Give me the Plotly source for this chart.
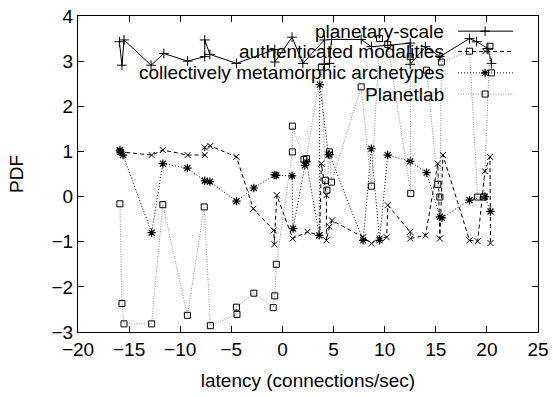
import plotly.graph_objects as go

# ---- data ----
series_names = ["planetary-scale", "authenticated modalities",
                "collectively metamorphic archetypes", "Planetlab"]

x_planetary = [-15.95, -15.7, -15.5, -12.85, -11.6, -9.27, -7.6, -7.6, -7.1, -4.5,
               -0.75, -0.75, 0.94, 2.0, 4.1, 4.1, 4.6, 4.8, 7.7, 8.7, 10.3, 12.5,
               12.5, 14.0, 15.4, 18.3, 19.0, 20.1, 20.45]
y_planetary = [3.43, 2.91, 3.47, 2.91, 3.17, 3.0, 3.1, 3.47, 3.15, 2.95,
               3.26, 2.98, 3.53, 2.95, 3.47, 2.93, 2.95, 3.48, 3.48, 3.32, 3.35, 3.4,
               2.93, 3.32, 3.1, 3.5, 3.43, 3.28, 2.95]

x_auth = [-15.9, -15.8, -12.8, -11.7, -9.27, -7.6, -7.6, -7.05, -4.5, -2.85, -0.85,
          -0.8, -0.55, 1.0, 2.45, 3.65, 3.8, 4.3, 4.3, 4.6, 4.85, 7.9, 8.7, 9.5,
          10.2, 10.3, 12.5, 12.5, 14.0, 15.2, 15.4, 15.7, 18.3, 19.1, 19.8, 20.3, 20.35]
y_auth = [1.02, 0.99, 0.92, 1.03, 0.92, 0.92, 1.09, 1.12, 0.88, -0.27, -0.75,
          -1.06, 0.03, -0.93, -0.78, -0.86, 0.73, 0.03, -0.97, -0.67, -0.53, -0.9, -1.04, -0.93,
          -0.9, -0.19, -0.78, -0.93, -0.86, 0.73, -0.93, 0.92, -0.97, -0.99, 0.56, 0.88, -1.03]

x_coll = [-15.9, -15.85, -15.6, -12.8, -11.7, -9.3, -7.6, -7.1, -4.5, -2.8, -0.75,
          -0.6, 0.94, 1.04, 2.2, 2.35, 3.6, 3.65, 4.5, 4.6, 7.9, 8.7, 9.5, 10.3, 12.5,
          14.1, 15.4, 15.6, 18.3, 19.8, 20.35]
y_coll = [1.03, 0.99, 0.92, -0.8, 0.73, 0.63, 0.35, 0.33, -0.1, 0.19, 0.48,
          0.47, 0.46, -0.71, 0.69, 0.77, -0.86, 2.48, 0.93, 0.93, -0.97, 1.06, -0.97, 0.92, 0.78,
          0.53, -0.45, -0.47, -0.08, 0.0, -0.33]

x_plab = [-15.9, -15.7, -15.5, -12.8, -11.7, -9.3, -7.65, -7.05, -4.45, -4.5, -2.8,
          -0.9, -0.75, -0.6, 0.97, 0.97, 2.1, 2.35, 3.8, 4.2, 4.35, 4.6, 4.8, 7.7, 8.7,
          9.5, 10.3, 12.55, 12.5, 14.1, 15.2, 15.4, 15.55, 18.3, 19.1, 19.7, 20.3, 20.45]
y_plab = [-0.16, -2.37, -2.82, -2.82, -0.18, -2.63, -0.23, -2.86, -2.61, -2.45, -2.14,
          -2.46, -2.2, -1.5, 0.99, 1.56, 0.82, 0.84, 2.87, 0.36, 0.14, 0.99, 0.32, 2.43, 0.23,
          3.5, 3.37, 0.07, 3.1, 2.8, 0.27, -0.01, 2.98, 3.22, -0.01, -0.01, 3.33, 2.74]

x_ticks = [-20, -15, -10, -5, 0, 5, 10, 15, 20, 25]
y_ticks = [-3, -2, -1, 0, 1, 2, 3, 4]

FONT = "Liberation Sans, Arial, sans-serif"
styles = [
    dict(line=dict(color="black", width=1, dash="solid"),
         marker=dict(symbol="cross-thin-open", size=7, color="black", line=dict(width=1, color="black"))),
    dict(line=dict(color="black", width=1, dash="4px,3px"),
         marker=dict(symbol="x-thin-open", size=6, color="black", line=dict(width=1, color="black"))),
    dict(line=dict(color="black", width=1, dash="1px,2px"),
         marker=dict(symbol="asterisk-open", size=7, color="black", line=dict(width=1.2, color="black"))),
    dict(line=dict(color="#909090", width=1, dash="1px,1.5px"),
         marker=dict(symbol="square-open", size=6, color="black", line=dict(width=1, color="black"))),
]
data = [(x_planetary, y_planetary), (x_auth, y_auth), (x_coll, y_coll), (x_plab, y_plab)]

fig = go.Figure()
for (xs, ys), st, name in zip(data, styles, series_names):
    fig.add_trace(go.Scatter(x=xs, y=ys, mode="lines+markers", name=name,
                             line=st["line"], marker=st["marker"], showlegend=False))

# gnuplot-style legend (text right, sample on the right) on an overlay axis
leg_y = [0.952, 0.888, 0.82, 0.753]
for st, name, ly in zip(styles, series_names, leg_y):
    fig.add_trace(go.Scatter(x=[0.826, 0.946], y=[ly, ly], mode="lines", line=st["line"],
                             xaxis="x2", yaxis="y2", showlegend=False, hoverinfo="skip"))
    fig.add_trace(go.Scatter(x=[0.885], y=[ly], mode="markers", marker=st["marker"],
                             xaxis="x2", yaxis="y2", showlegend=False, hoverinfo="skip"))
    fig.add_annotation(x=0.800, y=ly, xref="x2", yref="y2", text=name, showarrow=False,
                       xanchor="right", yanchor="middle",
                       font=dict(family=FONT, size=19, color="black"))

axis_common = dict(showgrid=False, zeroline=False, showline=True, linecolor="black",
                   linewidth=1, mirror="ticks", ticks="inside", ticklen=6, automargin=False,
                   tickcolor="black", tickfont=dict(family=FONT, size=19, color="black"))

fig.update_layout(
    width=553, height=397,
    margin=dict(l=78, r=15, t=16, b=65),
    paper_bgcolor="white", plot_bgcolor="white",
    xaxis=dict(range=[-20, 25], tickvals=x_ticks, **axis_common,
               title=dict(text="latency (connections/sec)", standoff=14,
                          font=dict(family=FONT, size=19, color="black"))),
    yaxis=dict(range=[-3, 4], tickvals=y_ticks, **axis_common,
               title=dict(text="PDF", standoff=22,
                          font=dict(family=FONT, size=19, color="black"))),
    xaxis2=dict(overlaying="x", range=[0, 1], visible=False, automargin=False),
    yaxis2=dict(overlaying="y", range=[0, 1], visible=False, automargin=False),
    showlegend=False,
)

fig.write_html("out.html")
